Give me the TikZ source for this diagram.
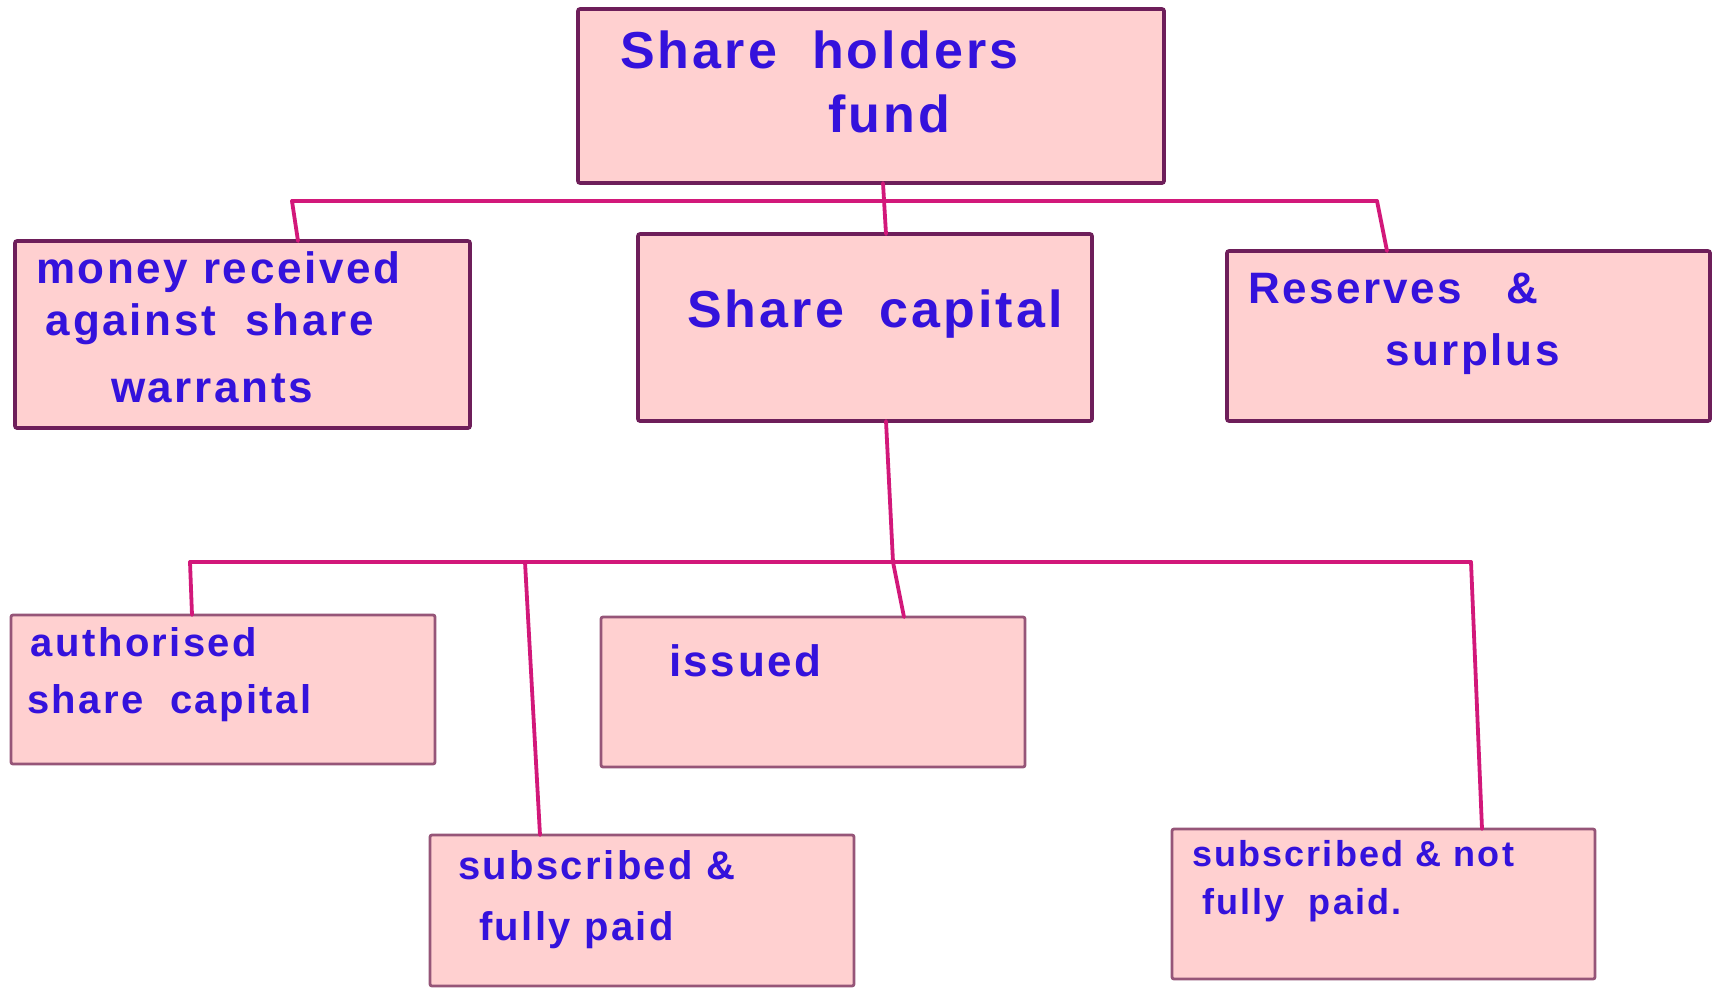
\documentclass[tikz,border=0pt]{standalone}
\usepackage{fontspec}
\setmainfont{Liberation Sans}[LetterSpace=6]
\definecolor{boxfill}{RGB}{255,208,208}
\definecolor{boxedge}{RGB}{110,30,90}
\definecolor{boxedgelight}{RGB}{150,85,120}
\definecolor{linkcol}{RGB}{210,24,122}
\definecolor{inkblue}{RGB}{52,18,220}
\tikzset{
  box/.style={draw=boxedge, fill=boxfill, line width=1.8pt, rounded corners=1pt, inner sep=0pt, outer sep=0pt, anchor=north west},
  lowbox/.style={box, draw=boxedgelight, line width=1.4pt},
  link/.style={draw=linkcol, line width=1.9pt, line cap=round, line join=round},
  ink/.style={text=inkblue, inner sep=0pt, outer sep=0pt, anchor=base west},
  fbig/.style={ink, font=\fontsize{26}{30}\selectfont\bfseries},
  fmid/.style={ink, font=\fontsize{22}{26}\selectfont\bfseries},
  fsmall/.style={ink, font=\fontsize{20}{24}\selectfont\bfseries},
  ftiny/.style={ink, font=\fontsize{18}{22}\selectfont\bfseries},
}
\begin{document}
\begin{tikzpicture}[x=0.5pt, y=-0.5pt]
\useasboundingbox (0,0) rectangle (1719,987);
\fill[white] (0,0) rectangle (1719,987);
% boxes
\node[box, minimum width=293pt, minimum height=87pt] (b1) at (578,9) {};
\node[box, minimum width=227.5pt, minimum height=93.5pt] (b2) at (15,241) {};
\node[box, minimum width=227pt, minimum height=93.5pt] (b3) at (638,234) {};
\node[box, minimum width=241.5pt, minimum height=85pt] (b4) at (1227,251) {};
\node[lowbox, minimum width=212pt, minimum height=74.5pt] (b5) at (11,615) {};
\node[lowbox, minimum width=212pt, minimum height=75pt] (b6) at (601,617) {};
\node[lowbox, minimum width=212pt, minimum height=75.5pt] (b7) at (430,835) {};
\node[lowbox, minimum width=211.5pt, minimum height=75pt] (b8) at (1172,829) {};
% texts
\node[fbig] (t1a) at (620,68) {Share \ holders};
\node[fbig] (t1b) at (828,132) {fund};
\node[fmid] (t2a) at (36,283) {money received};
\node[fmid] (t2b) at (46,335) {against \ share};
\node[fmid] (t2c) at (111,402) {warrants};
\node[fbig] (t3a) at (687,327) {Share \ capital};
\node[fmid] (t4a) at (1248,303) {Reserves \ \ \&};
\node[fmid] (t4b) at (1385,365) {surplus};
\node[fsmall] (t5a) at (31,656) {authorised};
\node[fsmall] (t5b) at (27,713) {share \ capital};
\node[fmid] (t6a) at (669,676) {issued};
\node[fsmall] (t7a) at (458,879) {subscribed \&};
\node[fsmall] (t7b) at (479,940) {fully paid};
\node[ftiny] (t8a) at (1192,866) {subscribed \& not};
\node[ftiny] (t8b) at (1202,914) {fully \ paid.};
% connector coordinates
\coordinate (h1L) at (292,201);
\coordinate (h1R) at (1377,201);
\coordinate (h2L) at (190,562);
\coordinate (h2M) at (893,562);
\coordinate (h2a) at (525,562);
\coordinate (h2R) at (1471,562);
% connectors
\draw[link] (h1L) -- (h1R);
\draw[link] ([xshift=6pt]b1.south) -- ([xshift=10.5pt]b3.north);
\draw[link] (h1L) -- ([xshift=27.75pt]b2.north);
\draw[link] (h1R) -- ([xshift=-40.75pt]b4.north);
\draw[link] (h2L) -- (h2R);
\draw[link] ([xshift=10.5pt]b3.south) -- (h2M) -- ([xshift=45.5pt]b6.north);
\draw[link] (h2L) -- ([xshift=-15.5pt]b5.north);
\draw[link] (h2a) -- ([xshift=-51pt]b7.north);
\draw[link] (h2R) -- ([xshift=49.25pt]b8.north);
\end{tikzpicture}
\end{document}
